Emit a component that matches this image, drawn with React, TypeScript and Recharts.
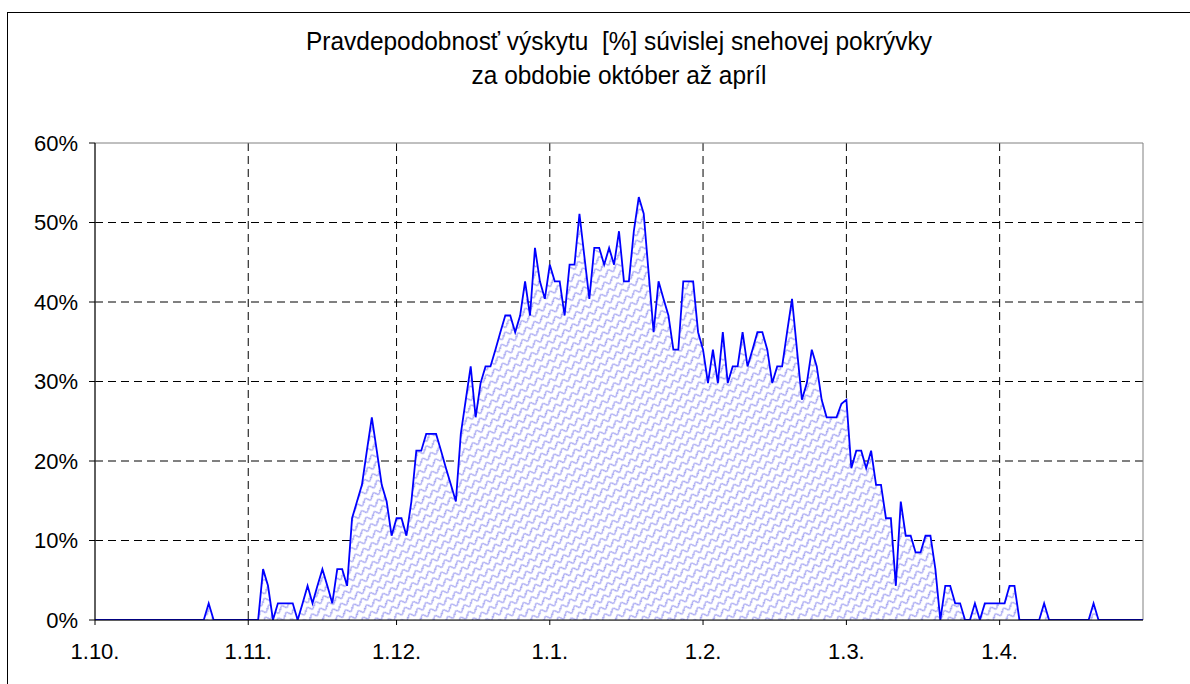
import { Area, AreaChart, CartesianGrid, ReferenceArea, XAxis, YAxis } from "recharts";

// month starts on the x axis (Feb counted with 29 days, as in the source sheet)
const MONTH_LABELS = ["1.10.", "1.11.", "1.12.", "1.1.", "1.2.", "1.3.", "1.4."];
const MONTH_DAYS = [31, 30, 31, 31, 29, 31, 30];
const Y_TICKS = [0, 10, 20, 30, 40, 50, 60];

// daily probability of continuous snow cover [%]
const OCT = [
  0, 0, 0, 0, 0, 0, 0, 0, 0, 0, 0, 0, 0, 0, 0, 0, 0, 0, 0, 0, 0, 0, 0, 2.1, 0, 0, 0, 0, 0, 0, 0,
];
const NOV = [
  0, 0, 0, 6.4, 4.3, 0, 2.1, 2.1, 2.1, 2.1, 0, 2.1, 4.3, 2.1, 4.3, 6.4, 4.3, 2.1, 6.4, 6.4, 4.3,
  12.8, 14.9, 17.0, 21.3, 25.5, 21.3, 17.0, 14.9, 10.6,
];
const DEC = [
  12.8, 12.8, 10.6, 14.9, 21.3, 21.3, 23.4, 23.4, 23.4, 21.3, 19.1, 17.0, 14.9, 23.4, 27.7, 31.9,
  25.5, 29.8, 31.9, 31.9, 34.0, 36.2, 38.3, 38.3, 36.2, 38.3, 42.6, 38.3, 46.8, 42.6, 40.4,
];
const JAN = [
  44.7, 42.6, 42.6, 38.3, 44.7, 44.7, 51.1, 45.7, 40.4, 46.8, 46.8, 44.7, 46.8, 44.7, 48.9, 42.6,
  42.6, 48.9, 53.2, 51.1, 43.6, 36.2, 42.6, 40.4, 38.3, 34.0, 34.0, 42.6, 42.6, 42.6, 36.2,
];
const FEB = [
  34.0, 29.8, 34.0, 29.8, 36.2, 29.8, 31.9, 31.9, 36.2, 31.9, 34.0, 36.2, 36.2, 34.0, 29.8, 31.9,
  31.9, 36.2, 40.4, 34.0, 27.7, 29.8, 34.0, 31.9, 27.7, 25.5, 25.5, 25.5, 27.2,
];
const MAR = [
  27.7, 19.1, 21.3, 21.3, 19.1, 21.3, 17.0, 17.0, 12.8, 12.8, 4.3, 14.9, 10.6, 10.6, 8.5, 8.5,
  10.6, 10.6, 6.4, 0, 4.3, 4.3, 2.1, 2.1, 0, 0, 2.1, 0, 2.1, 2.1, 2.1,
];
const APR = [
  2.1, 2.1, 4.3, 4.3, 0, 0, 0, 0, 0, 2.1, 0, 0, 0, 0, 0, 0, 0, 0, 0, 2.1, 0, 0, 0, 0, 0, 0, 0, 0,
  0, 0,
];

const values = [...OCT, ...NOV, ...DEC, ...JAN, ...FEB, ...MAR, ...APR];
const data = values.map((v, i) => ({ day: i, value: v }));

const monthStarts: number[] = [];
MONTH_DAYS.reduce((acc, n) => {
  monthStarts.push(acc);
  return acc + n;
}, 0);
const lastDay = values.length - 1;

const FONT = "'Liberation Sans', Arial, sans-serif";

export default function App() {
  return (
    <div
      style={{
        position: "absolute",
        left: 0,
        top: 0,
        width: 1190,
        height: 684,
        background: "#fff",
        fontFamily: FONT,
      }}
    >
      <div
        style={{
          position: "absolute",
          left: 7,
          top: 12,
          right: 0,
          bottom: 0,
          borderTop: "1px solid #000",
          borderLeft: "1px solid #000",
        }}
      />
      <div
        style={{
          position: "absolute",
          left: 95,
          width: 1048,
          top: 24,
          textAlign: "center",
          fontSize: 26,
          lineHeight: "34px",
          color: "#000",
          transform: "scaleX(0.94)",
          transformOrigin: "center",
        }}
      >
        <div>Pravdepodobnosť výskytu&nbsp; [%] súvislej snehovej pokrývky</div>
        <div>za obdobie október až apríl</div>
      </div>
      <AreaChart
        width={1190}
        height={684}
        data={data}
        margin={{ top: 143, right: 47, bottom: 0, left: 0 }}
        style={{ position: "absolute", left: 0, top: 0 }}
      >
        <defs>
          <pattern
            id="hatch"
            patternUnits="userSpaceOnUse"
            width="10"
            height="8"
            patternTransform="rotate(-35)"
          >
            <rect width="10" height="8" fill="#fff" />
            <path
              d="M0 5 C 2 1, 4 1, 5 4 C 6 7, 8 7, 10 3"
              fill="none"
              stroke="#a3a3f2"
              strokeWidth="1.3"
            />
          </pattern>
        </defs>
        <CartesianGrid
          stroke="#000"
          strokeDasharray="8 5"
          horizontalValues={[10, 20, 30, 40, 50]}
          verticalValues={monthStarts.slice(1)}
        />
        <ReferenceArea
          x1={0}
          x2={lastDay}
          y1={0}
          y2={60}
          fill="none"
          stroke="#808080"
          strokeWidth={1}
        />
        <XAxis
          type="number"
          dataKey="day"
          domain={[0, lastDay]}
          ticks={monthStarts}
          tickFormatter={(v: number) => MONTH_LABELS[monthStarts.indexOf(v)] ?? ""}
          height={64}
          stroke="#000"
          tickSize={5}
          tickMargin={18}
          tick={{ fill: "#000", fontSize: 22, fontFamily: FONT }}
          allowDataOverflow
        />
        <YAxis
          domain={[0, 60]}
          ticks={Y_TICKS}
          tickFormatter={(v: number) => `${v}%`}
          width={95}
          stroke="#000"
          tickSize={6}
          tickMargin={11}
          tick={{ fill: "#000", fontSize: 22, fontFamily: FONT }}
          allowDataOverflow
        />
        <Area
          type="linear"
          dataKey="value"
          stroke="#0000ff"
          strokeWidth={1.8}
          fill="url(#hatch)"
          fillOpacity={1}
          dot={false}
          activeDot={false}
          isAnimationActive={false}
        />
      </AreaChart>
    </div>
  );
}
